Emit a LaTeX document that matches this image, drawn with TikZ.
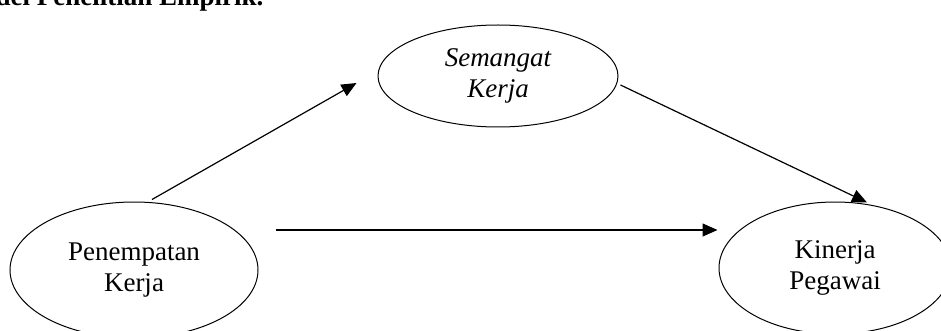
\documentclass[tikz,border=0pt]{standalone}
\usepackage{fontspec}
\setmainfont{Liberation Serif}
\usetikzlibrary{shapes.geometric,arrows.meta,calc}
\begin{document}
\begin{tikzpicture}[x=1pt,y=-1pt,
  oval/.style={draw,ellipse,line width=1pt,inner sep=0pt,align=center,
    font=\fontsize{27}{31}\selectfont},
  conn/.style={line width=1.2pt,-{Triangle[length=15pt,width=13pt]}}]
\useasboundingbox (0,0) rectangle (941,331);
\node[anchor=base east,font=\fontsize{27}{31}\selectfont\bfseries] (title) at (267,6) {Model Penelitian Empirik.};
\node[oval,minimum width=240pt,minimum height=102pt] (sem) at (498,76) {\itshape Semangat\\\itshape Kerja};
\node[oval,minimum width=248pt,minimum height=136pt] (pen) at (134,270) {Penempatan\\Kerja};
\node[oval,minimum width=232pt,minimum height=132pt] (kin) at (835,268) {Kinerja\\Pegawai};
\draw[conn] ($(pen.north)+(18,-2)$) -- ($(sem.west)+(-21,7)$);
\draw[conn] ($(pen.east)+(17,-40)$) -- ($(kin.west)+(-1,-38)$);
\draw[conn] ($(sem.east)+(2,9)$) -- ($(kin.north)+(32,1)$);
\end{tikzpicture}
\end{document}
